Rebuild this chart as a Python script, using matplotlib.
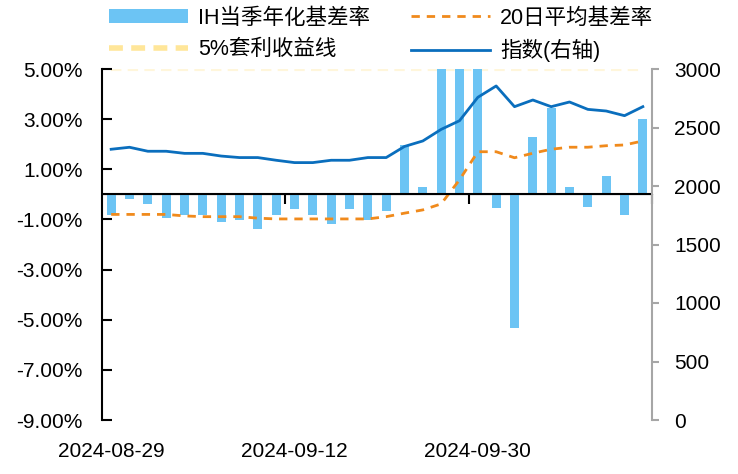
import matplotlib
matplotlib.use('Agg')
import matplotlib.pyplot as plt
from matplotlib.patches import Patch
from matplotlib.lines import Line2D

plt.rcParams['font.family'] = ['Liberation Sans', 'Noto Sans CJK SC', 'DejaVu Sans']
plt.rcParams['font.size'] = 15
plt.rcParams['axes.unicode_minus'] = False

# 30 trading days, 2024-08-29 .. 2024-10-18
dates = ['2024-08-29', '2024-08-30', '2024-09-02', '2024-09-03', '2024-09-04',
         '2024-09-05', '2024-09-06', '2024-09-09', '2024-09-10', '2024-09-11',
         '2024-09-12', '2024-09-13', '2024-09-18', '2024-09-19', '2024-09-20',
         '2024-09-23', '2024-09-24', '2024-09-25', '2024-09-26', '2024-09-27',
         '2024-09-30', '2024-10-08', '2024-10-09', '2024-10-10', '2024-10-11',
         '2024-10-14', '2024-10-15', '2024-10-16', '2024-10-17', '2024-10-18']

# IH quarterly annualised basis (%), three bars run off the top of the axis
basis = [-0.82, -0.20, -0.38, -0.93, -0.84, -0.84, -1.11, -1.02, -1.38, -0.84,
         -0.57, -0.84, -1.19, -0.57, -1.02, -0.65, 1.97, 0.31, 7.8, 9.5,
         6.9, -0.55, -5.32, 2.28, 3.46, 0.30, -0.49, 0.75, -0.83, 3.00]

# 20-day average basis (%)
basis_ma20 = [-0.80, -0.80, -0.80, -0.80, -0.86, -0.89, -0.89, -0.89, -0.95, -0.98,
              -0.98, -0.98, -0.98, -0.98, -0.98, -0.89, -0.75, -0.62, -0.38, 0.58,
              1.70, 1.70, 1.46, 1.64, 1.80, 1.88, 1.88, 1.94, 1.97, 2.13]

# 5% arbitrage line
arb_line = [5.0] * len(dates)

# index level (right axis)
index_level = [2314, 2331, 2297, 2297, 2279, 2279, 2256, 2243, 2243, 2220,
               2200, 2200, 2220, 2220, 2243, 2243, 2338, 2385, 2484, 2558,
               2758, 2855, 2678, 2735, 2678, 2718, 2655, 2641, 2601, 2678]

label_idx = [0, 10, 20]

x = list(range(len(dates)))

fig = plt.figure(figsize=(7.38, 4.74), dpi=100)
ax = fig.add_axes([102 / 738, 54 / 474, 550 / 738, 351 / 474])

bar_color = '#6CC4F4'
orange = '#F08A1C'
yellow = '#FFE699'
blue = '#0A6EBD'

ax.bar(x, basis, width=0.5, color=bar_color, zorder=2)
ax.plot(x, basis_ma20, color=orange, lw=2, dashes=(3, 2.5), zorder=3)
# the 5% line sits on the upper edge of the axis and is mostly clipped there
ax.plot(x, arb_line, color=yellow, lw=3, dashes=(2.5, 1.5), zorder=1, alpha=0.35)
ax.axhline(0, color='black', lw=1.5, zorder=4)

ax.set_xlim(-0.5, len(dates) - 0.5)
ax.set_ylim(-9, 5)
ax.set_yticks([5, 3, 1, -1, -3, -5, -7, -9])
ax.set_yticklabels(['%.2f%%' % v for v in [5, 3, 1, -1, -3, -5, -7, -9]])
ax.tick_params(axis='y', direction='in', length=7, width=1.5, pad=14, colors='black')
ax.set_xticks(label_idx)
ax.set_xticklabels([dates[i] for i in label_idx])
ax.tick_params(axis='x', length=0, pad=16)

for s in ['top', 'right', 'bottom']:
    ax.spines[s].set_visible(False)
ax.spines['left'].set_linewidth(1.5)

# small category ticks sitting on the zero line
sec = ax.secondary_xaxis(9 / 14)
sec.set_xticks([9.5, 19.5, 29.5])
sec.set_xticklabels([])
sec.tick_params(direction='in', length=7, width=1.5)
sec.spines['bottom'].set_visible(False)

ax2 = ax.twinx()
ax2.plot(x, index_level, color=blue, lw=2, zorder=5)
ax2.set_ylim(0, 3000)
ax2.set_yticks([0, 500, 1000, 1500, 2000, 2500, 3000])
ax2.tick_params(axis='y', direction='out', length=5, width=1.5, pad=11,
                color='#A6A6A6', labelcolor='black')
for s in ['top', 'left', 'bottom']:
    ax2.spines[s].set_visible(False)
ax2.spines['right'].set_color('#A6A6A6')
ax2.spines['right'].set_linewidth(1.5)

handles = [
    Patch(facecolor=bar_color, edgecolor='none'),
    Line2D([], [], color=yellow, lw=4, dashes=(2.5, 1.5)),
    Line2D([], [], color=orange, lw=2, dashes=(3, 2.5)),
    Line2D([], [], color=blue, lw=2),
]
labels = ['IH当季年化基差率', '5%套利收益线', '20日平均基差率', '指数(右轴)']
fig.legend(handles, labels, ncol=2, loc='upper left', bbox_to_anchor=(101 / 738, 1.0),
           frameon=False, handlelength=3.7, handleheight=0.6, handletextpad=0.45,
           columnspacing=1.9, labelspacing=0.5, borderpad=0.25, borderaxespad=0.1,
           fontsize=15.5)

plt.savefig('out.png', dpi=100)
